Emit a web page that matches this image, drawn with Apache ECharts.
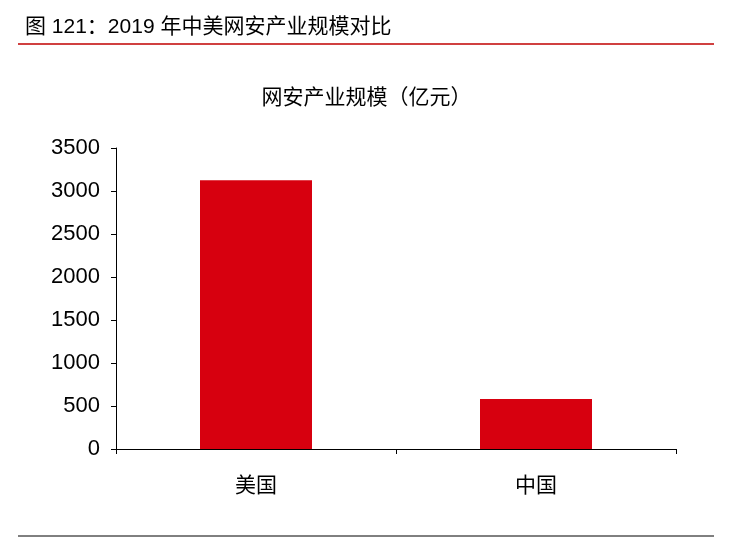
<!DOCTYPE html>
<html><head><meta charset="utf-8">
<script src="https://cdn.jsdelivr.net/npm/echarts@6/dist/echarts.min.js"></script>
<style>body{margin:0;background:#fff}#c{width:733px;height:538px}</style>
</head><body><div id="c"></div>
<script>
const categories = ['美国', '中国'];
const values = [3125, 580];
const yTicks = [0, 500, 1000, 1500, 2000, 2500, 3000, 3500];

const font = '"Liberation Sans", "Noto Sans CJK SC", sans-serif';
let chart = echarts.init(document.getElementById('c'));
chart.setOption({
  animation: false,
  title: [
    { text: '图 121：2019 年中美网安产业规模对比', left: 20, top: 12,
      textStyle: { fontSize: 21, fontWeight: 'normal', color: '#000', fontFamily: font } },
    { text: '网安产业规模（亿元）', left: 'center', top: 83,
      textStyle: { fontSize: 21, fontWeight: 'normal', color: '#000', fontFamily: font } }
  ],
  graphic: [
    { type: 'line', shape: { x1: 18, y1: 44, x2: 714, y2: 44 }, style: { stroke: '#c00000', lineWidth: 1.5 } },
    { type: 'line', shape: { x1: 18, y1: 536, x2: 714, y2: 536 }, style: { stroke: '#000', lineWidth: 1 } }
  ],
  grid: { left: 116, right: 57, top: 148, bottom: 89 },
  xAxis: {
    type: 'category', data: categories,
    axisLine: { lineStyle: { color: '#000' } },
    axisTick: { show: true, length: 5, lineStyle: { color: '#000' } },
    axisLabel: { color: '#000', fontSize: 21, margin: 27, fontFamily: font }
  },
  yAxis: {
    type: 'value', min: 0, max: 3500, interval: 500,
    axisLine: { show: true, lineStyle: { color: '#000' } },
    axisTick: { show: true, length: 5, lineStyle: { color: '#000' } },
    splitLine: { show: false },
    axisLabel: { color: '#000', fontSize: 22, margin: 16, fontFamily: '"Liberation Sans", sans-serif',
      formatter: v => yTicks.includes(v) ? String(v) : '' }
  },
  series: [{
    type: 'bar', data: values, barWidth: '40%',
    itemStyle: { color: '#d7000f' }
  }]
});
</script></body></html>
